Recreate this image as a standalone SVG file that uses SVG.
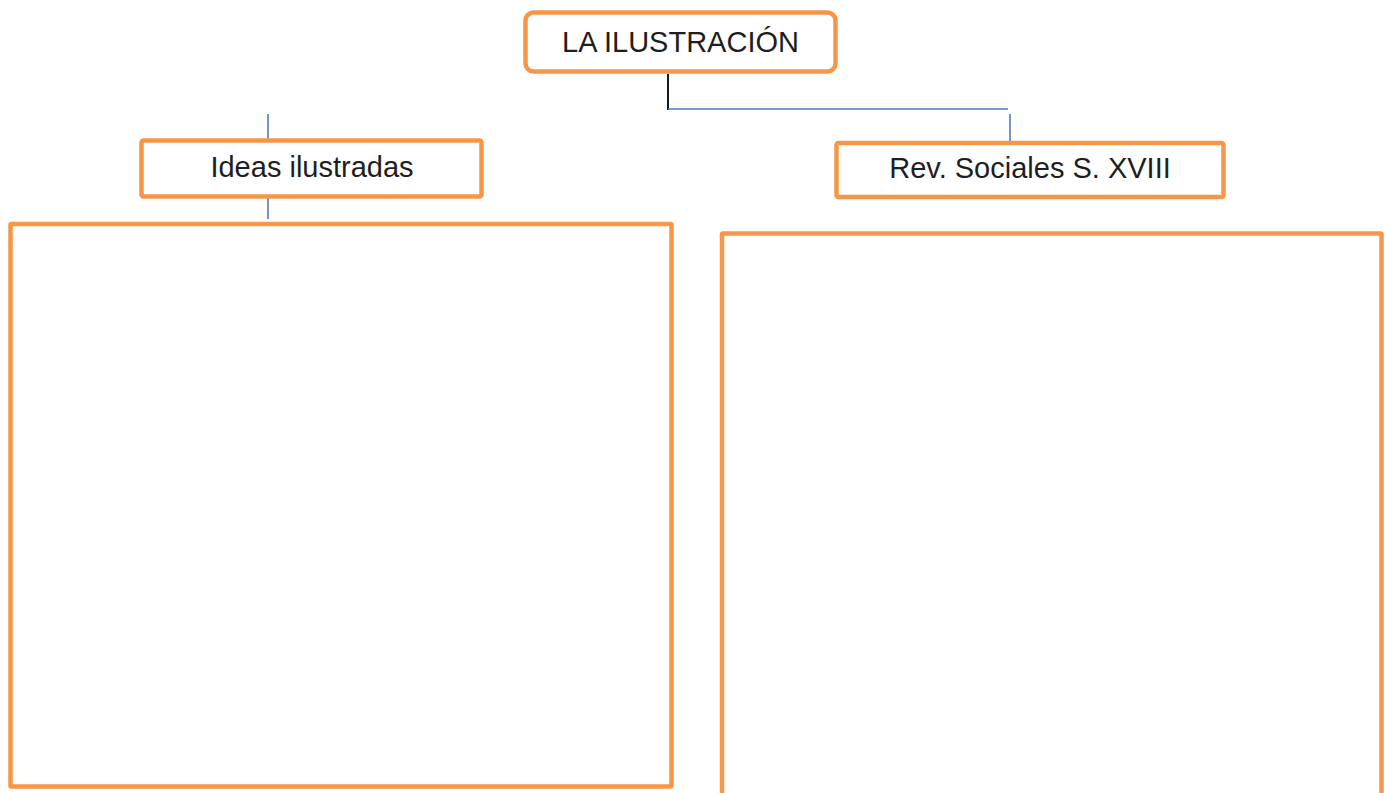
<svg xmlns="http://www.w3.org/2000/svg" width="1385" height="793" viewBox="0 0 1385 793">
  <style>
    .box { fill: #ffffff; stroke: #F79646; stroke-width: 4.5; }
    .lbl { font-family: "Liberation Sans", Arial, sans-serif; font-size: 29px; fill: #1e1e1e; text-anchor: middle; }
    .blue { stroke: #4A7EBB; stroke-width: 1.6; fill: none; }
    .black { stroke: #000000; stroke-width: 1.8; fill: none; }
  </style>
  <rect width="1385" height="793" fill="#ffffff"/>
  <g id="connectors">
    <line class="black" x1="668" y1="74" x2="668" y2="110"/>
    <line class="blue" x1="668" y1="109" x2="1008" y2="109"/>
    <line class="blue" x1="1010" y1="114" x2="1010" y2="142"/>
    <line class="blue" x1="268" y1="114" x2="268" y2="139"/>
    <line class="blue" x1="268" y1="198" x2="268" y2="219"/>
  </g>
  <g id="node-la-ilustracion">
    <rect class="box" x="525.5" y="12.5" width="310" height="59" rx="8"/>
    <text class="lbl" x="680.5" y="52">LA ILUSTRACIÓN</text>
  </g>
  <g id="node-ideas">
    <rect class="box" x="141.5" y="140.5" width="340" height="56" rx="2"/>
    <text class="lbl" x="312" y="177">Ideas ilustradas</text>
  </g>
  <g id="node-rev">
    <rect class="box" x="836.5" y="143" width="387" height="54" rx="2"/>
    <text class="lbl" x="1030" y="178">Rev. Sociales S. XVIII</text>
  </g>
  <g id="node-left-panel">
    <rect class="box" x="10.5" y="224" width="661" height="562.5" rx="1"/>
  </g>
  <g id="node-right-panel">
    <rect class="box" x="722" y="233.5" width="659.5" height="600" rx="1"/>
  </g>
</svg>
